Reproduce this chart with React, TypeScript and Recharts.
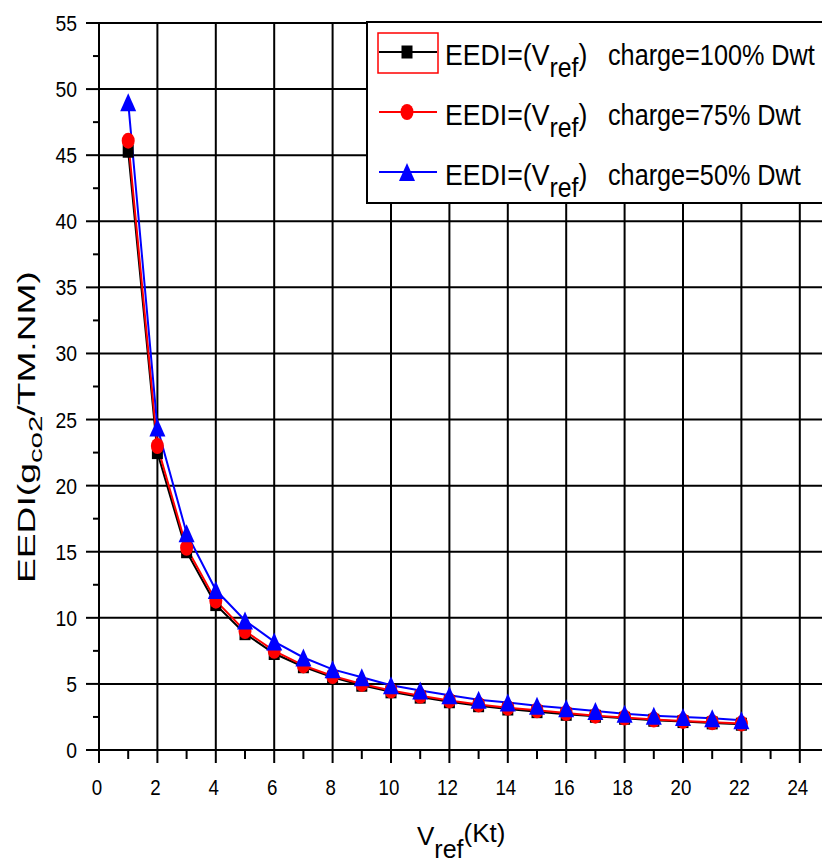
import React from 'react';
import { LineChart, Line, XAxis, YAxis, CartesianGrid } from 'recharts';

// speed V_ref (Kt)
const speeds = [1, 2, 3, 4, 5, 6, 7, 8, 9, 10, 11, 12, 13, 14, 15, 16, 17, 18, 19, 20, 21, 22];
// EEDI values per load case
const eedi100 = [45.3, 22.5, 15.0, 11.0, 8.8, 7.3, 6.3, 5.5, 4.9, 4.4, 4.0, 3.65, 3.35, 3.1, 2.9, 2.7, 2.55, 2.4, 2.25, 2.15, 2.05, 1.95];
const eedi75 = [46.1, 23.0, 15.3, 11.3, 9.0, 7.5, 6.4, 5.6, 5.0, 4.5, 4.1, 3.75, 3.45, 3.2, 3.0, 2.8, 2.6, 2.45, 2.3, 2.2, 2.1, 2.0];
const eedi50 = [49.0, 24.4, 16.4, 12.1, 9.8, 8.2, 7.0, 6.1, 5.5, 4.9, 4.5, 4.15, 3.8, 3.6, 3.35, 3.15, 2.95, 2.75, 2.6, 2.5, 2.4, 2.25];

const xTicks = [0, 1, 2, 3, 4, 5, 6, 7, 8, 9, 10, 11, 12, 13, 14, 15, 16, 17, 18, 19, 20, 21, 22, 23, 24];
const yTicks = [0, 2.5, 5, 7.5, 10, 12.5, 15, 17.5, 20, 22.5, 25, 27.5, 30, 32.5, 35, 37.5, 40, 42.5, 45, 47.5, 50, 52.5, 55];
const xGrid = [2, 4, 6, 8, 10, 12, 14, 16, 18, 20, 22, 24];
const yGrid = [5, 10, 15, 20, 25, 30, 35, 40, 45, 50, 55];

const legendLabels = ['charge=100% Dwt', 'charge=75% Dwt', 'charge=50% Dwt'];

const data = speeds.map((v, i) => ({ v, c100: eedi100[i], c75: eedi75[i], c50: eedi50[i] }));

const FONT = '"Liberation Sans", Arial, sans-serif';

const XTick = ({ x, y, payload }: any) => {
    const v = payload.value;
    const major = v % 2 === 0;
    return (
        <g>
            <line x1={x} x2={x} y1={y} y2={major ? y + 13 : y + 9} stroke='#000' strokeWidth={2} />
            {major && (
                <text transform={`translate(${x - 2},${y + 45}) scale(0.85,1)`} textAnchor='middle'
                    fontSize={22} fontFamily={FONT} fill='#000'>{v}</text>
            )}
        </g>
    );
};

const YTick = ({ x, y, payload }: any) => {
    const v = payload.value;
    const major = v % 5 === 0;
    return (
        <g>
            <line x1={x - (major ? 13 : 6)} x2={x} y1={y} y2={y} stroke='#000' strokeWidth={2} />
            {major && (
                <text transform={`translate(${x - 22},${y + 8}) scale(0.88,1)`} textAnchor='end'
                    fontSize={22} fontFamily={FONT} fill='#000'>{v}</text>
            )}
        </g>
    );
};

const Square = ({ cx, cy }: any) => <rect x={cx - 5.5} y={cy - 6.5} width={11} height={13} fill='#000' />;
const Circle = ({ cx, cy }: any) => <ellipse cx={cx} cy={cy} rx={6.5} ry={8} fill='#ff0000' />;
const Triangle = ({ cx, cy }: any) => (
    <polygon points={`${cx},${cy - 9} ${cx + 8},${cy + 9} ${cx - 8},${cy + 9}`} fill='#0000ff' />
);

const markers = [Square, Circle, Triangle];
const colors = ['#000000', '#ff0000', '#0000ff'];

const LegendBox = () => (
    <g fontFamily={FONT} fill='#000'>
        <rect x={367} y={22} width={480} height={181} fill='#fff' stroke='#000' strokeWidth={2} />
        <rect x={378} y={33} width={60} height={40} fill='none' stroke='#ff0000' strokeWidth={1.5} />
        {legendLabels.map((lbl, i) => {
            const cy = 52 + 60 * i;
            const base = 65 + 60 * i;
            const M = markers[i];
            return (
                <g key={lbl}>
                    <line x1={379} x2={437} y1={cy} y2={cy} stroke={colors[i]} strokeWidth={2} />
                    <M cx={407} cy={cy} />
                    <text transform={`translate(445,${base}) scale(0.92,1)`} fontSize={29}>
                        EEDI=(V<tspan dy={12} fontSize={27}>ref</tspan><tspan dy={-12}>)</tspan>
                    </text>
                    <text transform={`translate(608,${base}) scale(0.87,1)`} fontSize={29}>{lbl}</text>
                </g>
            );
        })}
    </g>
);

const AxisTitles = () => (
    <g fontFamily={FONT} fill='#000'>
        <text transform='translate(35,583) rotate(-90) scale(1.55,1)' fontSize={24}>
            EEDI(g<tspan dy={7} fontSize={19}>co2</tspan><tspan dy={-7}>/TM.NM)</tspan>
        </text>
        <text x={417} y={845} fontSize={26}>
            V<tspan dy={13} fontSize={25}>ref</tspan><tspan dy={-16}>(Kt)</tspan>
        </text>
    </g>
);

export default function App() {
    return (
        <div style={{ position: 'absolute', left: 0, top: 0, width: 822, height: 865, overflow: 'hidden', background: '#fff' }}>
            <LineChart width={840} height={865} data={data} margin={{ top: 23, right: 11, bottom: 0, left: 0 }}>
                <CartesianGrid stroke='#000' strokeWidth={2} horizontalValues={yGrid} verticalValues={xGrid} />
                <XAxis type='number' dataKey='v' domain={[0, 25]} ticks={xTicks} interval={0} height={115}
                    tickLine={false} tickSize={0} tickMargin={0} axisLine={{ stroke: '#000', strokeWidth: 2 }}
                    tick={<XTick />} />
                <YAxis type='number' domain={[0, 55]} ticks={yTicks} interval={0} width={99}
                    tickLine={false} tickSize={0} tickMargin={0} axisLine={{ stroke: '#000', strokeWidth: 2 }}
                    tick={<YTick />} />
                <Line type='linear' dataKey='c100' stroke='#000' strokeWidth={2} isAnimationActive={false}
                    dot={(p: any) => <Square key={`s${p.index}`} cx={p.cx} cy={p.cy} />} activeDot={false} />
                <Line type='linear' dataKey='c75' stroke='#ff0000' strokeWidth={2} isAnimationActive={false}
                    dot={(p: any) => <Circle key={`c${p.index}`} cx={p.cx} cy={p.cy} />} activeDot={false} />
                <Line type='linear' dataKey='c50' stroke='#0000ff' strokeWidth={2} isAnimationActive={false}
                    dot={(p: any) => <Triangle key={`t${p.index}`} cx={p.cx} cy={p.cy} />} activeDot={false} />
            </LineChart>
            <svg width={822} height={865} style={{ position: 'absolute', left: 0, top: 0, pointerEvents: 'none' }}>
                <LegendBox />
                <AxisTitles />
            </svg>
        </div>
    );
}
